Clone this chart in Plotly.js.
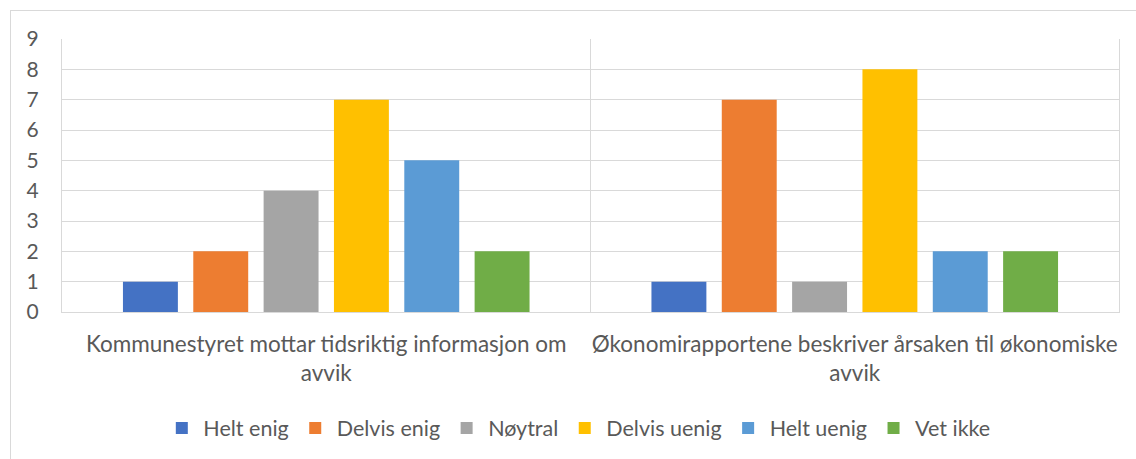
<!DOCTYPE html>
<html>
<head>
<meta charset="utf-8">
<script src="https://cdn.plot.ly/plotly-3.0.1.min.js"></script>
<style>
  html, body { margin: 0; padding: 0; background: #fff; overflow: hidden; }
  #wrap { position: relative; width: 1136px; height: 459px; }
  #frame { position: absolute; left: 10px; top: 10px; width: 1140px; height: 460px; border: 1px solid #d9d9d9; box-sizing: border-box; pointer-events: none; z-index: 5; }
  #chart { position: absolute; left: 0; top: 0; width: 1136px; height: 459px; }
</style>
</head>
<body>
<div id="wrap">
  <div id="chart"></div>
  <div id="frame"></div>
</div>
<script>
const categories = [
  "Kommunestyret mottar tidsriktig informasjon om<br>avvik",
  "Økonomirapportene beskriver årsaken til økonomiske<br>avvik"
];
const seriesNames = ["Helt enig", "Delvis enig", "Nøytral", "Delvis uenig", "Helt uenig", "Vet ikke"];
const seriesColors = ["#4472C4", "#ED7D31", "#A5A5A5", "#FFC000", "#5B9BD5", "#70AD47"];
const helt_enig = [1, 1];
const delvis_enig = [2, 7];
const noytral = [4, 1];
const delvis_uenig = [7, 8];
const helt_uenig = [5, 2];
const vet_ikke = [2, 2];
const seriesValues = [helt_enig, delvis_enig, noytral, delvis_uenig, helt_uenig, vet_ikke];
const yTicks = [0, 1, 2, 3, 4, 5, 6, 7, 8, 9];

const FONT = "Lato, 'Open Sans', sans-serif";

const data = seriesNames.map((name, i) => ({
  type: "bar",
  name: name,
  x: categories,
  y: seriesValues[i],
  marker: { color: seriesColors[i], line: { width: 0 } },
  hoverinfo: "x+y+name"
}));

const layout = {
  width: 1136,
  height: 459,
  margin: { l: 62, r: 17, t: 39, b: 146 },
  paper_bgcolor: "#ffffff",
  plot_bgcolor: "#ffffff",
  barmode: "group",
  bargap: 0.2015,
  bargroupgap: 0.219,
  font: { family: FONT, size: 20, color: "#595959" },
  showlegend: true,
  legend: {
    orientation: "h",
    x: 0.488, xanchor: "center",
    y: -0.42, yanchor: "middle",
    font: { family: FONT, size: 21.5, color: "#595959" },
    itemwidth: 33,
    traceorder: "normal"
  },
  xaxis: {
    type: "category",
    tickson: "boundaries",
    tickangle: 0,
    showgrid: true,
    gridcolor: "#d9d9d9",
    gridwidth: 1,
    showline: true,
    linecolor: "#d9d9d9",
    linewidth: 1,
    ticks: "",
    ticklabelstandoff: 12,
    tickfont: { family: FONT, size: 22.5, color: "#595959" },
    zeroline: false,
    mirror: false
  },
  yaxis: {
    range: [0, 9],
    tickvals: yTicks,
    ticktext: yTicks.map(String),
    showgrid: true,
    gridcolor: "#d9d9d9",
    gridwidth: 1,
    zeroline: false,
    showline: true,
    mirror: true,
    linecolor: "#d9d9d9",
    linewidth: 1,
    ticks: "",
    ticklabelstandoff: 18,
    tickfont: { family: FONT, size: 21, color: "#595959" }
  }
};

Plotly.newPlot("chart", data, layout, { displayModeBar: false, staticPlot: true });
</script>
</body>
</html>
